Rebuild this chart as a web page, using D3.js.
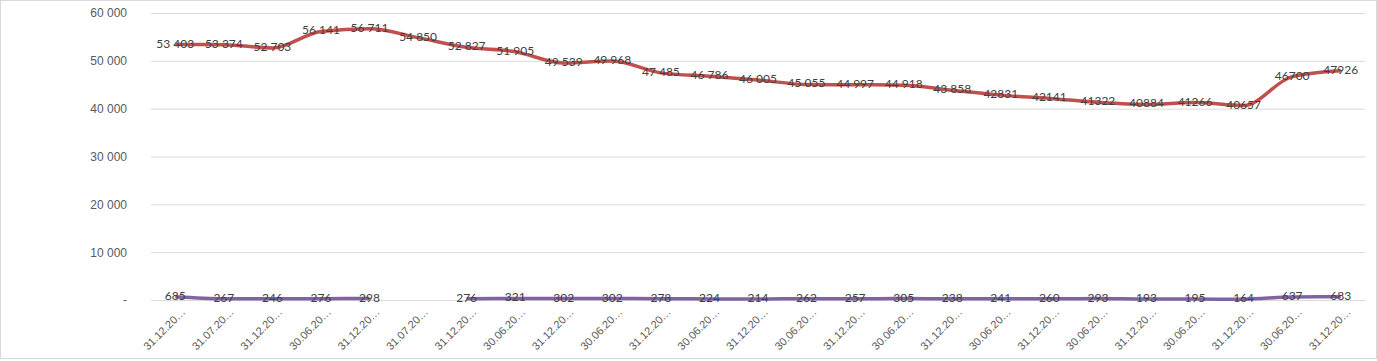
<!DOCTYPE html>
<html>
<head>
<meta charset="utf-8">
<script src="https://cdn.jsdelivr.net/npm/d3@7"></script>
<style>
  body { margin: 0; background: #fff; }
  svg { display: block; font-family: Lato, "Open Sans", sans-serif; }
</style>
</head>
<body>
<svg id="chart" width="1377" height="361"></svg>
<script>
// categories (labels are truncated in the original chart)
var dates = ["31.12.20…", "31.07.20…", "31.12.20…", "30.06.20…", "31.12.20…", "31.07.20…",
  "31.12.20…", "30.06.20…", "31.12.20…", "30.06.20…", "31.12.20…", "30.06.20…", "31.12.20…",
  "30.06.20…", "31.12.20…", "30.06.20…", "31.12.20…", "30.06.20…", "31.12.20…", "30.06.20…",
  "31.12.20…", "30.06.20…", "31.12.20…", "30.06.20…", "31.12.20…"];
var seriesTop = [53403, 53374, 52703, 56141, 56711, 54850, 52827, 51905, 49539, 49968, 47485,
  46786, 46005, 45055, 44997, 44918, 43858, 42831, 42141, 41322, 40884, 41266, 40657, 46700, 47926];
var seriesLow = [685, 267, 246, 276, 298, null, 276, 321, 302, 302, 278, 224, 214, 262, 257,
  305, 238, 241, 260, 293, 193, 195, 164, 637, 683];
var yTicks = [0, 10000, 20000, 30000, 40000, 50000, 60000];
// top labels lose the thousands space from this index on
var groupedUntil = 17;

var svg = d3.select("#chart");
var W = 1377, H = 361;

svg.append("rect").attr("x", 0.5).attr("y", 0.5).attr("width", W - 1).attr("height", H - 3)
  .attr("fill", "#fff").attr("stroke", "#d9d9d9");

var x = d3.scaleBand().domain(d3.range(dates.length)).range([151, 1365]);
var y = d3.scaleLinear().domain([0, 60000]).range([300, 13]);
var cx = function(i) { return x(i) + x.bandwidth() / 2; };

var spaced = function(v) { return d3.format(",")(v).replace(/,/g, " "); };

// gridlines + y labels
var yAxis = d3.axisLeft(y).tickValues(yTicks).tickSize(-(1365 - 151))
  .tickFormat(function(d) { return d === 0 ? "-" : spaced(d); });
var gy = svg.append("g").attr("transform", "translate(151,0)").call(yAxis);
gy.select(".domain").remove();
gy.selectAll(".tick line").attr("stroke", "#d9d9d9");
gy.selectAll(".tick text").attr("x", -24).attr("fill", "#595959").attr("font-size", 12);

// x labels
var xAxis = d3.axisBottom(x).tickSize(0).tickFormat(function(i) { return dates[i]; });
var gx = svg.append("g").attr("transform", "translate(0,300)").call(xAxis);
gx.select(".domain").remove();
gx.selectAll(".tick text")
  .attr("fill", "#595959").attr("font-size", 11)
  .attr("text-anchor", "end")
  .attr("transform", "translate(8,10) rotate(-45)")
  .attr("dy", "0.35em").attr("y", 0);

var line = d3.line()
  .defined(function(d) { return d != null; })
  .x(function(d, i) { return cx(i); })
  .y(function(d) { return y(d); })
  .curve(d3.curveMonotoneX);

svg.append("path").datum(seriesTop).attr("d", line)
  .attr("fill", "none").attr("stroke", "#C0504D").attr("stroke-width", 3.5);
svg.append("path").datum(seriesLow).attr("d", line)
  .attr("fill", "none").attr("stroke", "#8064A2").attr("stroke-width", 3.5);

svg.append("g").selectAll("text").data(seriesTop).enter().append("text")
  .attr("x", function(d, i) { return cx(i); })
  .attr("y", function(d) { return y(d); })
  .attr("dy", "0.25em")
  .attr("text-anchor", "middle").attr("font-size", 12).attr("fill", "#404040")
  .text(function(d, i) { return i < groupedUntil ? spaced(d) : String(d); });

svg.append("g").selectAll("text").data(seriesLow.map(function(d, i) { return { v: d, i: i }; })
    .filter(function(d) { return d.v != null; }))
  .enter().append("text")
  .attr("x", function(d) { return cx(d.i); })
  .attr("y", function(d) { return y(d.v); })
  .attr("dy", "0.25em")
  .attr("text-anchor", "middle").attr("font-size", 12).attr("fill", "#404040")
  .text(function(d) { return d.v; });
</script>
</body>
</html>
